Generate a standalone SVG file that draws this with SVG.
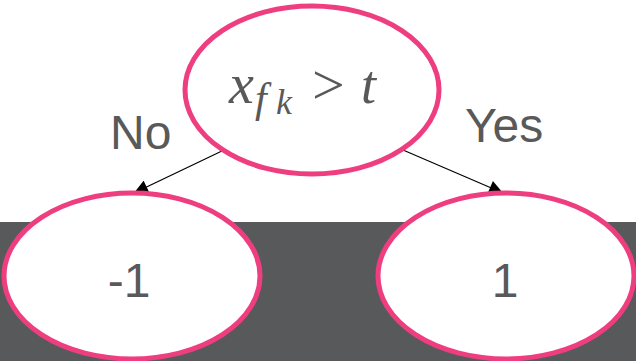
<svg xmlns="http://www.w3.org/2000/svg" width="636" height="361" viewBox="0 0 636 361">
<style>
.node{fill:#fff;stroke:#EE3E80;stroke-width:5}
.lbl{font-family:"Liberation Sans",Arial,sans-serif;font-size:48px;fill:#595959}
.math{font-family:"Liberation Serif","Times New Roman",serif;font-style:italic;fill:#595959}
.edge{stroke:#000;stroke-width:1.2;fill:none}
</style>
<defs>
<marker id="ah" viewBox="0 0 10 10" refX="10" refY="5" markerWidth="15" markerHeight="14" markerUnits="userSpaceOnUse" orient="auto">
<path d="M0,0 L10,5 L0,10 z" fill="#000"/>
</marker>
</defs>
<rect x="0" y="222" width="636" height="139" fill="#58595B"/>
<g id="connectors">
<line class="edge" x1="224" y1="150" x2="134" y2="193" marker-end="url(#ah)"/>
<line class="edge" x1="403" y1="150" x2="503" y2="193" marker-end="url(#ah)"/>
<text class="lbl" x="110" y="149">No</text>
<text class="lbl" x="465" y="142">Yes</text>
</g>
<g id="root">
<ellipse class="node" cx="312" cy="90" rx="127" ry="84"/>
<text class="math" x="229" y="103" font-size="56">x</text>
<text class="math" x="255" y="112" font-size="42">f</text>
<text class="math" x="276" y="114" font-size="36">k</text>
<text x="312" y="104" font-family="Liberation Serif,serif" font-size="58" fill="#595959">&gt;</text>
<text class="math" x="361" y="103" font-size="54">t</text>
</g>
<g id="neg">
<ellipse class="node" cx="132" cy="276" rx="128" ry="83"/>
<text class="lbl" x="129" y="297" text-anchor="middle">-1</text>
</g>
<g id="pos">
<ellipse class="node" cx="506" cy="276" rx="128" ry="83"/>
<text class="lbl" x="505" y="297" text-anchor="middle">1</text>
</g>
</svg>
